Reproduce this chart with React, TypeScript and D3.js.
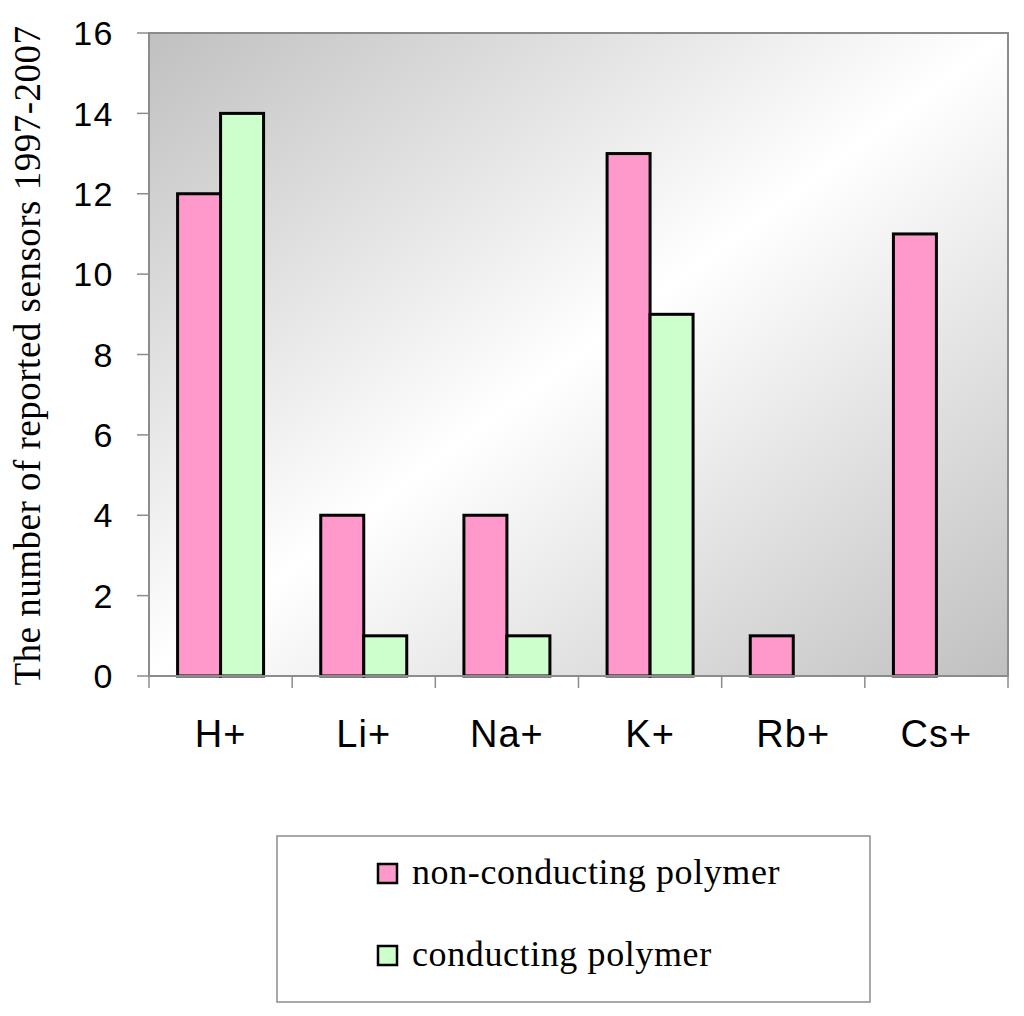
import React from "react";
import * as d3 from "d3";

const categories = ["H+", "Li+", "Na+", "K+", "Rb+", "Cs+"];
const seriesNames = ["non-conducting polymer", "conducting polymer"];
const nonConducting = [12, 4, 4, 13, 1, 11];
const conducting = [14, 1, 1, 9, 0, 0];
const yTicks = [0, 2, 4, 6, 8, 10, 12, 14, 16];
const yTitle = "The number of reported sensors 1997-2007";

const colors = ["#FF99CC", "#CCFFCC"];

export default function App() {
  const W = 1024, H = 1016;
  const left = 149, right = 1008, top = 33, bottom = 676;
  const x = d3.scaleBand<string>().domain(categories).range([left, right]).padding(0);
  const xs = d3.scaleBand<string>().domain(seriesNames).range([0, x.bandwidth()]).paddingInner(0).paddingOuter(0.665);
  const y = d3.scaleLinear().domain([0, 16]).range([bottom, top]);
  const values = [nonConducting, conducting];
  const sansFont = "'Liberation Sans', Arial, sans-serif";
  const serifFont = "'Liberation Serif', 'Times New Roman', serif";

  return (
    <svg width={W} height={H} style={{ position: "absolute", left: 0, top: 0, background: "#fff" }}>
      <defs>
        <linearGradient id="bg" x1="0" y1="0" x2="1" y2="1">
          <stop offset="0" stopColor="#c0c0c0" />
          <stop offset="0.5" stopColor="#ffffff" />
          <stop offset="1" stopColor="#c0c0c0" />
        </linearGradient>
      </defs>
      <rect x={left} y={top} width={right - left} height={bottom - top} fill="url(#bg)" stroke="#8c8c8c" strokeWidth={2} />
      {/* y axis ticks */}
      {yTicks.map((t) => (
        <g key={t}>
          <line x1={left - 12} x2={left} y1={y(t)} y2={y(t)} stroke="#8c8c8c" strokeWidth={1.5} />
          <text x={114} y={y(t)} dy="0.36em" textAnchor="end" fontFamily={sansFont} fontSize={34} letterSpacing={1.5} fill="#000">
            {t}
          </text>
        </g>
      ))}
      {/* x axis ticks */}
      {[...categories.map((c) => x(c) as number), right].map((v, i) => (
        <line key={i} x1={v} x2={v} y1={bottom} y2={bottom + 12} stroke="#8c8c8c" strokeWidth={1.5} />
      ))}
      {/* bars */}
      {categories.map((c, ci) =>
        seriesNames.map((s, si) => {
          const v = values[si][ci];
          if (!v) return null;
          const bx = (x(c) as number) + (xs(s) as number);
          return (
            <rect key={c + s} x={bx} y={y(v)} width={xs.bandwidth()} height={y(0) - y(v)} fill={colors[si]} stroke="#000" strokeWidth={3} />
          );
        })
      )}
      <line x1={left} x2={right} y1={bottom} y2={bottom} stroke="#8c8c8c" strokeWidth={2} />
      <line x1={left} x2={left} y1={top} y2={bottom} stroke="#8c8c8c" strokeWidth={2} />
      {/* x labels */}
      {categories.map((c) => (
        <text key={c} x={(x(c) as number) + x.bandwidth() / 2} y={747} textAnchor="middle" fontFamily={sansFont} fontSize={38} letterSpacing={1} fill="#000">
          {c}
        </text>
      ))}
      {/* y title */}
      <text transform={`translate(40, ${(top + bottom) / 2 + 1}) rotate(-90)`} textAnchor="middle" fontFamily={serifFont} fontSize={37} letterSpacing={0.5} fill="#000">
        {yTitle}
      </text>
      {/* legend */}
      <rect x={277} y={836} width={593} height={166} fill="#fff" stroke="#8c8c8c" strokeWidth={1.5} />
      {seriesNames.map((s, i) => (
        <g key={s}>
          <rect x={378} y={864 + i * 82} width={19} height={19} fill={colors[i]} stroke="#000" strokeWidth={2.5} />
          <text x={412} y={884 + i * 82} fontFamily={serifFont} fontSize={36} letterSpacing={0.6} fill="#000">
            {s}
          </text>
        </g>
      ))}
    </svg>
  );
}
